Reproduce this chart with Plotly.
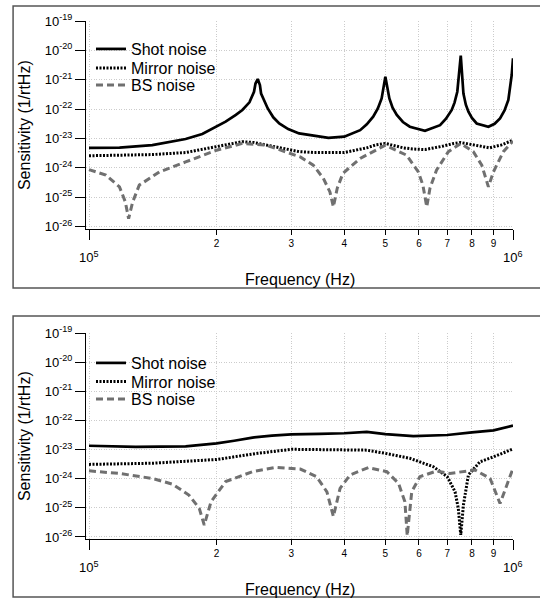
import plotly.graph_objects as go

# ---------------- data ----------------
# Top panel
top_shot_f = [1.00e5, 1.18e5, 1.41e5, 1.69e5, 1.85e5, 2.00e5, 2.10e5, 2.22e5, 2.30e5, 2.39e5, 2.45e5,
              2.47e5, 2.50e5, 2.53e5, 2.546e5, 2.64e5, 2.72e5, 2.81e5, 2.95e5, 3.13e5, 3.38e5, 3.67e5, 4.00e5,
              4.36e5, 4.52e5, 4.68e5, 4.80e5, 4.90e5, 5.00e5, 5.11e5, 5.20e5, 5.32e5, 5.50e5, 5.71e5, 6.20e5,
              6.73e5, 6.95e5, 7.17e5, 7.28e5, 7.39e5, 7.53e5, 7.64e5, 7.74e5, 7.85e5, 8.00e5, 8.21e5, 8.75e5,
              9.05e5, 9.32e5, 9.55e5, 9.75e5, 9.93e5, 1.00e6]
top_shot_v = [4.79e-24, 4.90e-24, 5.89e-24, 9.55e-24, 1.41e-23, 2.51e-23, 3.72e-23, 6.31e-23, 9.33e-23, 1.70e-22, 3.89e-22,
              7.41e-22, 1.05e-21, 6.61e-22, 3.39e-22, 1.05e-22, 5.25e-23, 3.24e-23, 2.09e-23, 1.48e-23, 1.23e-23, 1.05e-23, 1.15e-23,
              1.91e-23, 3.02e-23, 5.50e-23, 1.05e-22, 2.29e-22, 1.26e-21, 2.29e-22, 1.12e-22, 6.31e-23, 3.63e-23, 2.51e-23, 1.82e-23,
              2.82e-23, 4.68e-23, 9.33e-23, 1.66e-22, 3.89e-22, 6.61e-21, 3.39e-22, 1.41e-22, 8.13e-23, 5.01e-23, 3.24e-23, 2.51e-23,
              3.16e-23, 4.79e-23, 8.91e-23, 2.04e-22, 1.45e-21, 5.37e-21]

top_mirror_f = [1.00e5, 1.20e5, 1.41e5, 1.69e5, 2.00e5, 2.15e5, 2.30e5, 2.45e5, 2.62e5, 2.85e5,
                3.13e5, 3.40e5, 3.67e5, 4.00e5, 4.52e5, 4.75e5, 5.00e5, 5.25e5, 5.51e5, 5.80e5,
                6.20e5, 6.85e5, 7.20e5, 7.53e5, 7.90e5, 8.21e5, 8.80e5, 9.40e5, 1.00e6]
top_mirror_v = [2.57e-24, 2.63e-24, 2.82e-24, 3.31e-24, 5.25e-24, 6.76e-24, 7.76e-24, 7.24e-24, 5.89e-24, 4.47e-24,
                3.55e-24, 3.31e-24, 3.24e-24, 3.31e-24, 4.79e-24, 6.03e-24, 6.76e-24, 5.75e-24, 4.79e-24, 4.37e-24,
                4.17e-24, 5.50e-24, 6.61e-24, 7.24e-24, 6.31e-24, 5.50e-24, 4.79e-24, 6.03e-24, 8.71e-24]

top_bs_f = [1.000e5, 1.096e5, 1.180e5, 1.218e5, 1.240e5, 1.268e5, 1.314e5, 1.466e5, 1.690e5, 2.000e5,
            2.300e5, 2.620e5, 3.150e5, 3.380e5, 3.570e5, 3.700e5, 3.770e5, 3.850e5, 3.970e5, 4.360e5,
            5.000e5, 5.610e5, 5.980e5, 6.130e5, 6.260e5, 6.370e5, 6.600e5, 7.040e5, 7.530e5, 8.060e5,
            8.440e5, 8.750e5, 8.990e5, 9.490e5, 1.000e6]
top_bs_v = [8.71e-25, 5.62e-25, 2.24e-25, 6.92e-26, 1.86e-26, 6.92e-26, 2.57e-25, 7.24e-25, 1.58e-24, 3.98e-24,
            6.76e-24, 5.89e-24, 2.34e-24, 1.23e-24, 4.37e-25, 1.51e-25, 4.68e-26, 2.00e-25, 6.46e-25, 2.09e-24,
            5.89e-24, 2.69e-24, 7.24e-25, 2.57e-25, 4.68e-26, 2.00e-25, 8.32e-25, 3.55e-24, 6.76e-24, 3.55e-24,
            1.23e-24, 2.24e-25, 7.24e-25, 3.55e-24, 8.13e-24]

# Bottom panel
bot_shot_f = [1.00e5, 1.29e5, 1.69e5, 2.00e5, 2.20e5, 2.43e5, 2.70e5, 3.00e5, 3.50e5, 4.00e5,
              4.52e5, 5.00e5, 5.82e5, 6.30e5, 7.00e5, 8.00e5, 9.00e5, 1.00e6]
bot_shot_v = [1.35e-23, 1.23e-23, 1.29e-23, 1.62e-23, 2.00e-23, 2.57e-23, 3.02e-23, 3.31e-23, 3.47e-23, 3.63e-23,
              4.07e-23, 3.39e-23, 2.88e-23, 2.95e-23, 3.16e-23, 3.89e-23, 4.57e-23, 6.61e-23]

bot_mirror_f = [1.00e5, 1.41e5, 2.00e5, 2.50e5, 3.00e5, 4.00e5, 4.52e5, 5.00e5, 5.71e5, 6.49e5,
                7.00e5, 7.30e5, 7.43e5, 7.53e5, 7.64e5, 7.85e5, 8.36e5, 9.00e5, 1.00e6]
bot_mirror_v = [3.09e-24, 3.39e-24, 4.57e-24, 7.41e-24, 1.02e-23, 9.55e-24, 9.55e-24, 7.41e-24, 5.01e-24, 2.57e-24,
                1.17e-24, 3.55e-25, 9.55e-26, 1.17e-26, 1.26e-25, 1.35e-24, 3.80e-24, 5.62e-24, 1.05e-23]

bot_bs_f = [1.000e5, 1.180e5, 1.410e5, 1.575e5, 1.720e5, 1.820e5, 1.870e5, 1.940e5, 2.100e5, 2.430e5,
            2.760e5, 3.150e5, 3.440e5, 3.640e5, 3.770e5, 3.910e5, 4.130e5, 4.560e5, 5.040e5, 5.370e5,
            5.560e5, 5.630e5, 5.770e5, 6.030e5, 6.600e5, 7.100e5, 8.130e5, 8.830e5, 9.320e5, 9.660e5,
            1.000e6]
bot_bs_v = [1.86e-24, 1.51e-24, 1.02e-24, 6.46e-25, 2.75e-25, 9.55e-26, 2.57e-26, 1.62e-25, 7.94e-25, 1.74e-24,
            2.45e-24, 2.14e-24, 1.17e-24, 3.55e-25, 5.01e-26, 4.68e-25, 1.35e-24, 2.40e-24, 1.74e-24, 6.92e-25,
            1.62e-25, 1.10e-26, 3.55e-25, 1.17e-24, 1.82e-24, 1.51e-24, 2.00e-24, 1.02e-24, 1.41e-25, 6.03e-25,
            2.24e-24]

series_names = ["Shot noise", "Mirror noise", "BS noise"]
x_minor_vals = [2e5, 3e5, 4e5, 5e5, 6e5, 7e5, 8e5, 9e5]
x_minor_text = ["2", "3", "4", "5", "6", "7", "8", "9"]
x_major_vals = [1e5, 1e6]
y_tick_vals = [1e-26, 1e-25, 1e-24, 1e-23, 1e-22, 1e-21, 1e-20, 1e-19]
y_tick_text = ["10<sup>-26</sup>", "10<sup>-25</sup>", "10<sup>-24</sup>", "10<sup>-23</sup>",
               "10<sup>-22</sup>", "10<sup>-21</sup>", "10<sup>-20</sup>", "10<sup>-19</sup>"]

# ---------------- styling ----------------
FONT = "Liberation Sans, Arial, sans-serif"
GRIDC = "#cccccc"
GRIDDASH = "1px,1.5px"
styles = [
    dict(color="black", width=2.7),
    dict(color="black", width=3, dash="2px,1.5px"),
    dict(color="#707070", width=3, dash="7px,4px"),
]

W, H = 540, 599
ml, mr, mt, mb = 86, 26.5, 21, 60
ph = H - mt - mb  # 518


def py(pix):
    return (H - mb - pix) / ph


def px(pix):
    return (pix - ml) / (W - ml - mr)


fig = go.Figure()
top = [(top_shot_f, top_shot_v), (top_mirror_f, top_mirror_v), (top_bs_f, top_bs_v)]
bot = [(bot_shot_f, bot_shot_v), (bot_mirror_f, bot_mirror_v), (bot_bs_f, bot_bs_v)]
legend_ids = ["legend", "legend2", "legend3", "legend4", "legend5", "legend6"]
k = 0
for (f, v), name, st in zip(top, series_names, styles):
    fig.add_trace(go.Scatter(x=f, y=v, mode="lines", name=name, line=st,
                             xaxis="x", yaxis="y", legend=legend_ids[k]))
    k += 1
for (f, v), name, st in zip(bot, series_names, styles):
    fig.add_trace(go.Scatter(x=f, y=v, mode="lines", name=name, line=st,
                             xaxis="x2", yaxis="y2", legend=legend_ids[k]))
    k += 1

grid = dict(showgrid=True, gridcolor=GRIDC, griddash=GRIDDASH, gridwidth=1)
xax = dict(type="log", range=[4.99293, 6.0], tickmode="array", tickvals=x_minor_vals,
           ticktext=x_minor_text, ticks="outside", ticklen=5, tickwidth=1, tickcolor="black",
           tickfont=dict(size=10, family=FONT, color="black"),
           showline=True, linecolor="black", linewidth=1.2,
           minor=dict(tickmode="array", tickvals=x_major_vals, ticks="outside", ticklen=10,
                      tickwidth=1, tickcolor="black", showgrid=True, gridcolor=GRIDC,
                      griddash=GRIDDASH, gridwidth=1),
           **grid)
yax = dict(type="log", tickmode="array", tickvals=y_tick_vals, ticktext=y_tick_text,
           ticks="outside", ticklen=10, tickwidth=1, tickcolor="black",
           tickfont=dict(size=13, family=FONT, color="black"),
           showline=True, linecolor="black", linewidth=1.2, **grid)

top_dom = [py(229), 1.0]
bot_dom = [0.0, py(333)]

annotations = []
for xa, ylab, yfreq, ysens in [("x", py(257), py(279), py((21 + 229) / 2)),
                               ("x2", py(567), py(589), py((333 + 539) / 2))]:
    annotations.append(dict(x=5, xref=xa, y=ylab, yref="paper", text="10<sup>5</sup>",
                            showarrow=False, xanchor="center", yanchor="middle",
                            font=dict(size=13, family=FONT, color="black")))
    annotations.append(dict(x=6, xref=xa, y=ylab, yref="paper", text="10<sup>6</sup>",
                            showarrow=False, xanchor="center", yanchor="middle",
                            font=dict(size=13, family=FONT, color="black")))
    annotations.append(dict(x=0.5, xref="paper", y=yfreq, yref="paper", text="Frequency (Hz)",
                            showarrow=False, xanchor="center", yanchor="middle",
                            font=dict(size=16, family=FONT, color="black")))
    annotations.append(dict(x=px(24), xref="paper", y=ysens, yref="paper",
                            text="Sensitivity (1/rtHz)", textangle=-90,
                            showarrow=False, xanchor="center", yanchor="middle",
                            font=dict(size=16, family=FONT, color="black")))

shapes = [
    dict(type="rect", xref="paper", yref="paper", x0=px(13), x1=px(548), y0=py(288), y1=py(6),
         line=dict(color="#555555", width=1.5), fillcolor="rgba(0,0,0,0)", layer="below"),
    dict(type="rect", xref="paper", yref="paper", x0=px(13), x1=px(548), y0=py(597), y1=py(316),
         line=dict(color="#555555", width=1.5), fillcolor="rgba(0,0,0,0)", layer="below"),
    # white backgrounds behind the legends (hide the grid there)
    dict(type="rect", xref="paper", yref="paper", x0=px(87), x1=px(217), y0=py(96), y1=py(31),
         line=dict(width=0), fillcolor="white", layer="between"),
    dict(type="rect", xref="paper", yref="paper", x0=px(87), x1=px(219), y0=py(408), y1=py(343),
         line=dict(width=0), fillcolor="white", layer="between"),
]

legend_common = dict(xanchor="left", yanchor="top", bgcolor="rgba(0,0,0,0)", borderwidth=0,
                     font=dict(size=16, family=FONT, color="black"))
item_centres = [49, 68, 85, 363, 381.5, 399]
legends = {}
for lid, c in zip(legend_ids, item_centres):
    legends[lid] = dict(x=px(91), y=py(c - 17), **legend_common)

fig.update_layout(
    width=W, height=H,
    margin=dict(l=ml, r=mr, t=mt, b=mb, pad=0),
    paper_bgcolor="white", plot_bgcolor="white",
    font=dict(family=FONT, color="black"),
    xaxis=dict(domain=[0, 1], anchor="y", **xax),
    yaxis=dict(domain=top_dom, anchor="x", range=[-26.085, -19], **yax),
    xaxis2=dict(domain=[0, 1], anchor="y2", **xax),
    yaxis2=dict(domain=bot_dom, anchor="x2", range=[-26.07, -19], **yax),
    annotations=annotations,
    shapes=shapes,
    showlegend=True,
    **legends,
)

fig.write_html("out.html", config={"displayModeBar": False},
               post_script="document.body.style.margin='0px';document.body.style.padding='0px';")
